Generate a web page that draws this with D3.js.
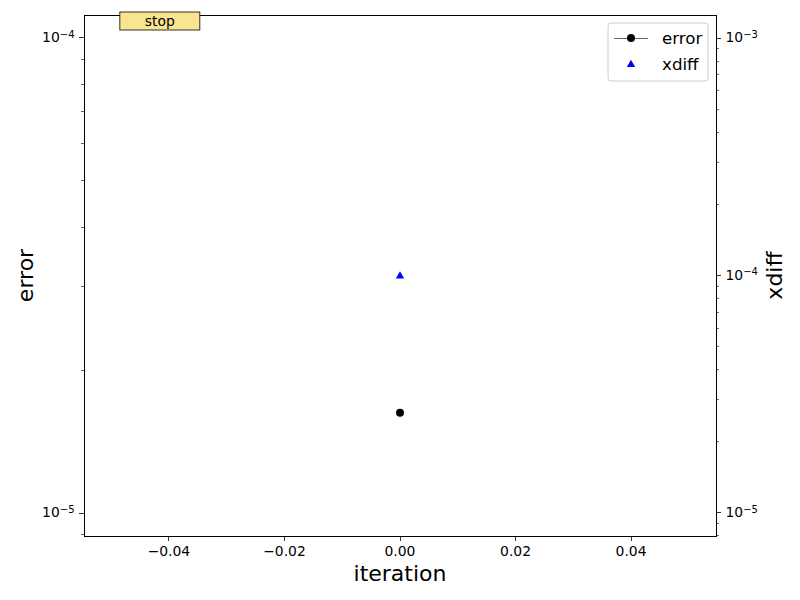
<!DOCTYPE html>
<html>
<head>
<meta charset="utf-8">
<script src="https://cdn.jsdelivr.net/npm/d3@7"></script>
<style>
  body { margin: 0; background: #fff; }
  text { font-family: "DejaVu Sans", sans-serif; fill: #000; }
  line, rect.frame { shape-rendering: crispEdges; }
</style>
</head>
<body>
<div id="chart"></div>
<script>
var iterations = [0];
var errorVals = [1.625e-5];
var xdiffVals = [1.0e-4];
var xTicks = [-0.04, -0.02, 0.00, 0.02, 0.04];
var xDomain = [-0.0547, 0.0547];
var errDomain = [Math.pow(10, -5.0484), Math.pow(10, -3.9516)];
var xdiffDomain = [Math.pow(10, -5.097), Math.pow(10, -2.903)];
var seriesNames = ["error", "xdiff"];
var stopLabel = "stop";

var svgWidth = 800;
var svgHeight = 600;
var margin = { top: 15, right: 84, bottom: 64, left: 84 };
var width = svgWidth - margin.left - margin.right;
var height = svgHeight - margin.top - margin.bottom;

var svg = d3.select("#chart").append("svg")
    .attr("width", svgWidth)
    .attr("height", svgHeight);

var chart = svg.append("g").attr("transform", `translate(${margin.left}, ${margin.top})`);

var xScale = d3.scaleLinear().domain(xDomain).range([0, width]);
var yLeft = d3.scaleLog().domain(errDomain).range([height, 0]);
var yRight = d3.scaleLog().domain(xdiffDomain).range([height, 0]);

// log ticks: majors on decades, minors in between
function logTicks(scale) {
    var d = scale.domain();
    var lo = Math.floor(Math.log10(d[0])), hi = Math.ceil(Math.log10(d[1]));
    var major = [], minor = [];
    for (var e = lo; e <= hi; e++) {
        for (var m = 1; m < 10; m++) {
            var v = m * Math.pow(10, e);
            if (v < d[0] || v > d[1]) continue;
            if (m === 1) major.push(e); else minor.push(v);
        }
    }
    return { major: major, minor: minor };
}

function drawLogAxis(g, scale, side) {
    var t = logTicks(scale);
    var dir = side === "left" ? -1 : 1;
    t.minor.forEach(function(v) {
        g.append("line").attr("x1", 0).attr("x2", dir * 2.8)
            .attr("y1", scale(v)).attr("y2", scale(v))
            .attr("stroke", "#000").attr("stroke-width", 0.6);
    });
    t.major.forEach(function(e) {
        var y = scale(Math.pow(10, e));
        g.append("line").attr("x1", 0).attr("x2", dir * 4.9)
            .attr("y1", y).attr("y2", y)
            .attr("stroke", "#000").attr("stroke-width", 0.8);
        var txt = g.append("text")
            .attr("x", dir * 9.5).attr("y", y)
            .attr("dy", "0.32em")
            .attr("text-anchor", side === "left" ? "end" : "start")
            .style("font-size", "13.9px");
        txt.append("tspan").text("10");
        txt.append("tspan").attr("dy", "-0.45em").style("font-size", "10px")
            .text(String(e).replace("-", "\u2212"));
    });
}

// x axis
var xg = chart.append("g").attr("transform", `translate(0, ${height})`);
xTicks.forEach(function(v) {
    var x = xScale(v);
    xg.append("line").attr("x1", x).attr("x2", x).attr("y1", 0).attr("y2", 4.9)
        .attr("stroke", "#000").attr("stroke-width", 0.8);
    xg.append("text").attr("x", x).attr("y", 8.5).attr("dy", "0.8em")
        .attr("text-anchor", "middle").style("font-size", "13.9px")
        .text(d3.format(".2f")(v).replace("-", "\u2212"));
});

drawLogAxis(chart.append("g"), yLeft, "left");
drawLogAxis(chart.append("g").attr("transform", `translate(${width}, 0)`), yRight, "right");

// frame
chart.append("rect").attr("class", "frame").attr("width", width).attr("height", height)
    .attr("fill", "none").attr("stroke", "#000").attr("stroke-width", 1);

// series
var errLine = d3.line().x(function(d, i) { return xScale(iterations[i]); }).y(function(d) { return yLeft(d); });
chart.append("path").datum(errorVals).attr("d", errLine)
    .attr("fill", "none").attr("stroke", "#000").attr("stroke-width", 0.6);
chart.selectAll(".errpt").data(errorVals).enter().append("circle")
    .attr("cx", function(d, i) { return xScale(iterations[i]); })
    .attr("cy", function(d) { return yLeft(d); })
    .attr("r", 4).attr("fill", "#000");

var tri = d3.symbol().type(d3.symbolTriangle).size(30);
chart.selectAll(".xdpt").data(xdiffVals).enter().append("path")
    .attr("d", tri)
    .attr("transform", function(d, i) { return `translate(${xScale(iterations[i])}, ${yRight(d) + 0.5})`; })
    .attr("fill", "#0000ff");

// axis labels
svg.append("text").attr("x", margin.left + width / 2).attr("y", 581)
    .attr("text-anchor", "middle").style("font-size", "22px").text("iteration");
svg.append("text").attr("transform", `translate(33, ${margin.top + height / 2}) rotate(-90)`)
    .attr("text-anchor", "middle").style("font-size", "22px").text(seriesNames[0]);
svg.append("text").attr("transform", `translate(782, ${margin.top + height / 2}) rotate(-90)`)
    .attr("text-anchor", "middle").style("font-size", "22px").text(seriesNames[1]);

// stop box
var stopG = svg.append("g").attr("transform", `translate(${margin.left + width * 0.12}, 21)`);
stopG.append("rect").attr("x", -40).attr("y", -9).attr("width", 80).attr("height", 18)
    .attr("fill", "#f9e48f").attr("stroke", "#000").attr("stroke-width", 0.8);
stopG.append("text").attr("text-anchor", "middle").attr("dy", "0.35em")
    .style("font-size", "13.9px").text(stopLabel);

// legend
var lg = svg.append("g").attr("transform", "translate(608, 23)");
lg.append("rect").attr("width", 100).attr("height", 58).attr("rx", 3)
    .attr("fill", "#fff").attr("fill-opacity", 0.8)
    .attr("stroke", "#cccccc").attr("stroke-width", 1);
lg.append("line").attr("x1", 6).attr("x2", 40).attr("y1", 15).attr("y2", 15)
    .attr("stroke", "#000").attr("stroke-width", 0.6);
lg.append("circle").attr("cx", 23).attr("cy", 15).attr("r", 4).attr("fill", "#000");
lg.append("path").attr("d", tri).attr("transform", "translate(23, 41.5)").attr("fill", "#0000ff");
lg.selectAll(".lt").data(seriesNames).enter().append("text")
    .attr("x", 54).attr("y", function(d, i) { return 15 + i * 26; })
    .attr("dy", "0.35em").style("font-size", "16.7px")
    .text(function(d) { return d; });
</script>
</body>
</html>
